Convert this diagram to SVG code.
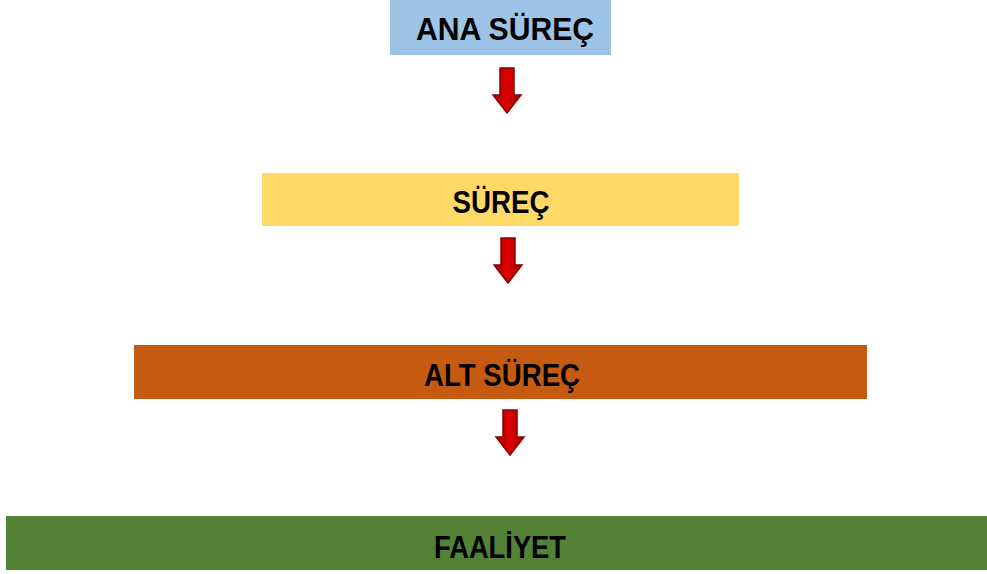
<svg xmlns="http://www.w3.org/2000/svg" width="987" height="574" viewBox="0 0 987 574">
<defs>
<linearGradient id="rg" x1="0" y1="0" x2="1" y2="0">
<stop offset="0" stop-color="#A00000"/>
<stop offset="0.5" stop-color="#E00000"/>
<stop offset="1" stop-color="#A00000"/>
</linearGradient>
<path id="arr" d="M-7,0 H7 V27 H14 L0,45 L-14,27 H-7 Z"/>
</defs>
<style>
.t{font-family:"Liberation Sans",Arial,sans-serif;font-weight:bold;font-size:31px;fill:#000;text-anchor:middle}
.a{fill:url(#rg);stroke:#8B0000;stroke-width:1.5}
</style>
<rect width="987" height="574" fill="#fff"/>
<g id="ana">
<rect x="390" y="0" width="221" height="55" fill="#9DC3E6"/>
<text class="t" x="505" y="40" textLength="178" lengthAdjust="spacingAndGlyphs">ANA SÜREÇ</text>
</g>
<g id="surec">
<rect x="262" y="173" width="477" height="53" fill="#FFD966"/>
<text class="t" x="501" y="213" textLength="97" lengthAdjust="spacingAndGlyphs">SÜREÇ</text>
</g>
<g id="alt">
<rect x="134" y="345" width="733" height="54" fill="#C55A11"/>
<text class="t" x="502" y="386" textLength="156" lengthAdjust="spacingAndGlyphs">ALT SÜREÇ</text>
</g>
<g id="faaliyet">
<rect x="6" y="516" width="981" height="54" fill="#538135"/>
<text class="t" x="500" y="558" textLength="132" lengthAdjust="spacingAndGlyphs">FAALİYET</text>
</g>
<g id="connectors">
<use href="#arr" class="a" transform="translate(507,68)"/>
<use href="#arr" class="a" transform="translate(508,238)"/>
<use href="#arr" class="a" transform="translate(510,410)"/>
</g>
</svg>
